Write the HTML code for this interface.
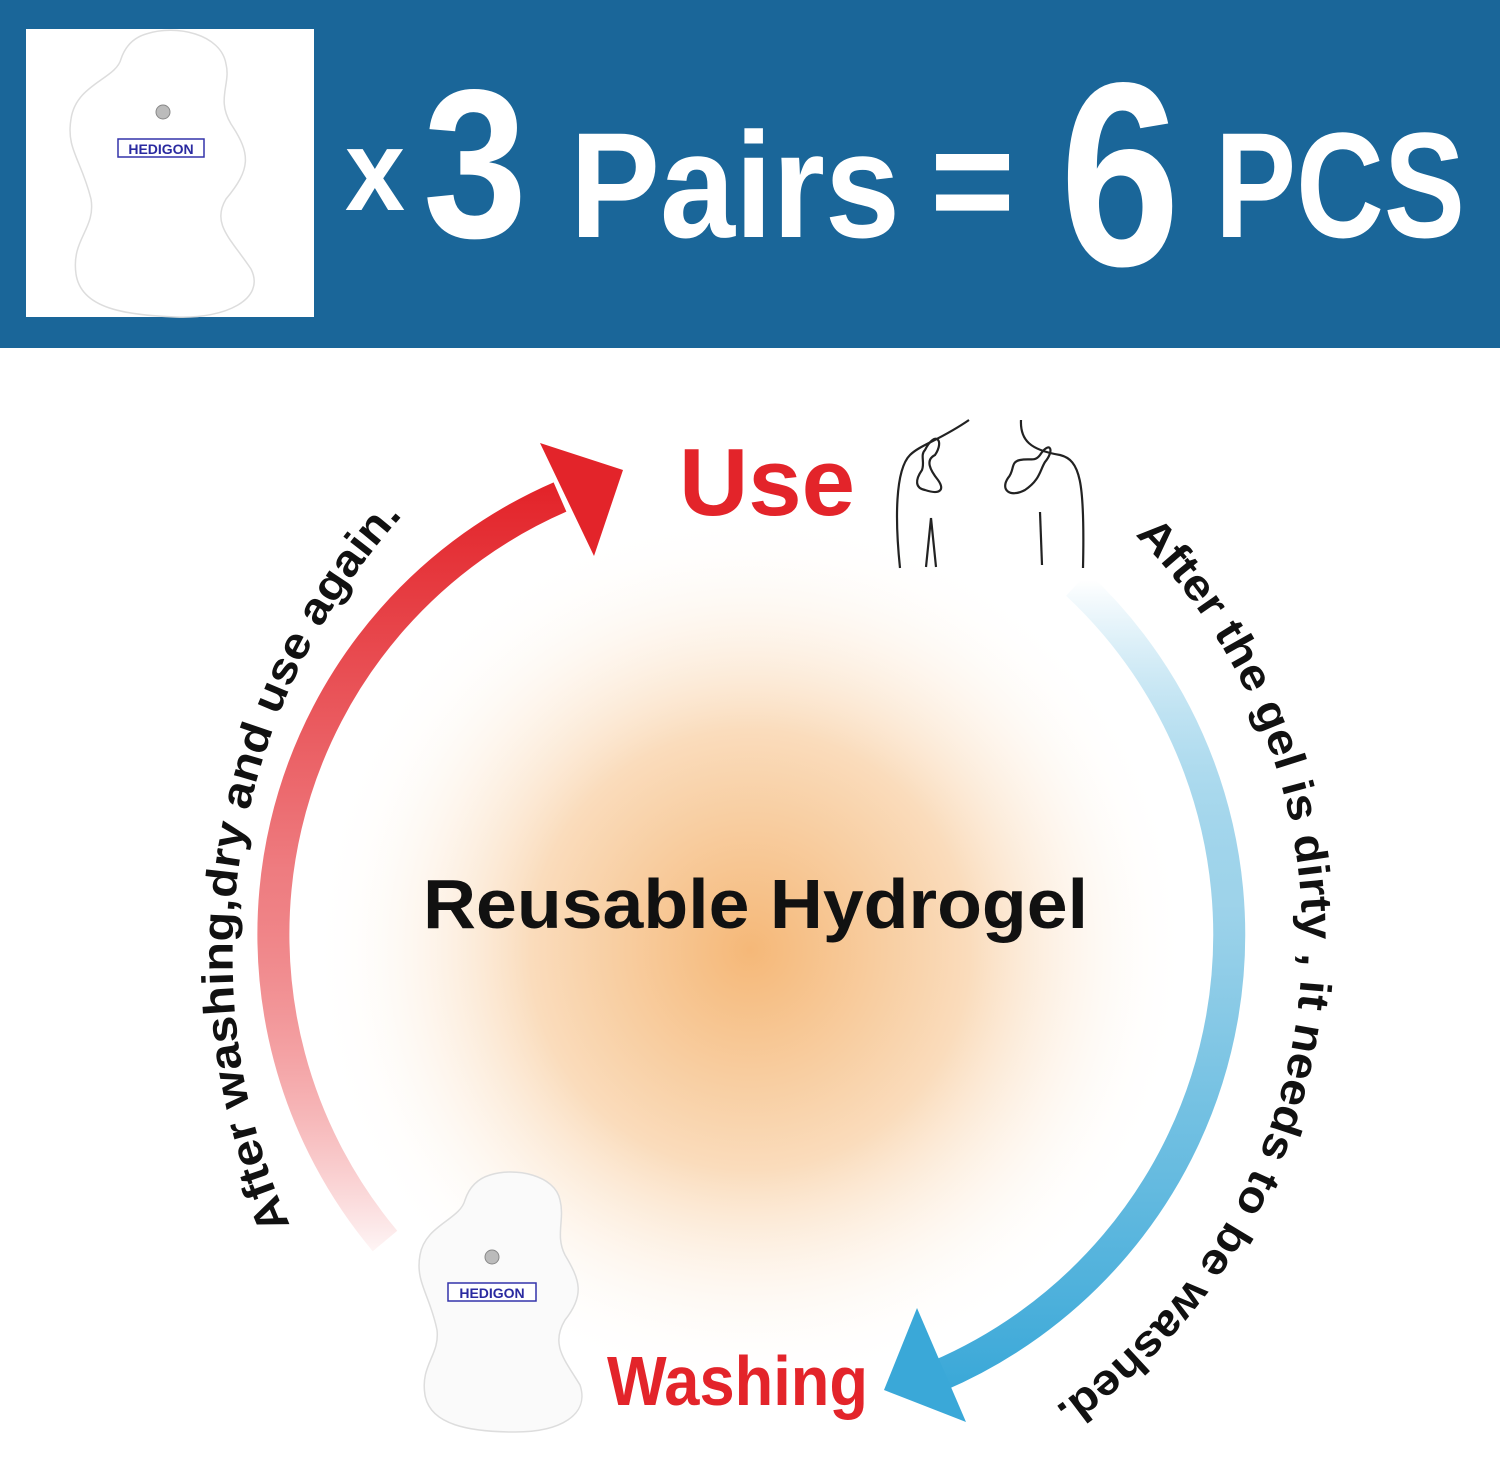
<!DOCTYPE html>
<html><head><meta charset="utf-8"><style>
html,body{margin:0;padding:0;background:#fff;}
body{width:1500px;height:1465px;position:relative;overflow:hidden;font-family:"Liberation Sans",sans-serif;}
</style></head><body>
<svg style="position:absolute;left:0;top:0" width="1500" height="1465">
<defs>
<radialGradient id="glow" cx="750" cy="950" r="440" gradientUnits="userSpaceOnUse">
<stop offset="0" stop-color="#f5b878"/><stop offset="0.5" stop-color="#fadcbc"/><stop offset="1" stop-color="#fff" stop-opacity="0"/>
</radialGradient>
<linearGradient id="red" x1="0" y1="1250" x2="0" y2="490" gradientUnits="userSpaceOnUse">
<stop offset="0" stop-color="#e6262a" stop-opacity="0.05"/><stop offset="0.5" stop-color="#ee7c80"/><stop offset="1" stop-color="#e3242a"/>
</linearGradient>
<linearGradient id="blue" x1="0" y1="580" x2="0" y2="1390" gradientUnits="userSpaceOnUse">
<stop offset="0" stop-color="#3aa8d8" stop-opacity="0"/><stop offset="0.4" stop-color="#9ed3ea"/><stop offset="1" stop-color="#3aa8d8"/>
</linearGradient>
<path id="lt" d="M 290 1225 A 657 657 0 0 1 420 497"/>
<path id="rt" d="M 1135 535 A 569 569 0 0 1 1048 1412"/>
</defs>
<rect x="0" y="0" width="1500" height="348" fill="#1a6699"/>
<rect x="26" y="29" width="288" height="288" fill="#fff"/>
<g transform="translate(26,29)">
<path d="M120 5 C150 -5 195 5 200 35 C205 55 190 70 205 95 C225 125 225 140 200 170 C185 195 205 210 225 240 C240 270 200 290 150 288 C100 286 55 280 50 245 C45 210 70 200 65 170 C55 130 40 120 45 90 C50 55 90 50 95 30 C100 15 110 8 120 5Z" fill="#fff" stroke="#ddd" stroke-width="1.5"/>
<circle cx="137" cy="83" r="7" fill="#bbb" stroke="#888"/>
<rect x="92" y="110" width="86" height="18" fill="#fff" stroke="#33a" stroke-width="1.5"/>
<text x="135" y="125" text-anchor="middle" font-family="Liberation Sans" font-weight="bold" font-size="14" fill="#2a2aa0">HEDIGON</text>
</g>
<g font-family="Liberation Sans" font-weight="bold" fill="#fff">
<text x="345" y="210" font-size="115" textLength="60" lengthAdjust="spacingAndGlyphs">x</text>
<text x="423" y="237" font-size="212" textLength="104" lengthAdjust="spacingAndGlyphs">3</text>
<text x="570" y="237" font-size="150" textLength="330" lengthAdjust="spacingAndGlyphs">Pairs</text>
<text x="930" y="232" font-size="150" textLength="85" lengthAdjust="spacingAndGlyphs">=</text>
<text x="1060" y="265" font-size="262" textLength="120" lengthAdjust="spacingAndGlyphs">6</text>
<text x="1215" y="237" font-size="150" textLength="250" lengthAdjust="spacingAndGlyphs">PCS</text>
</g>
<circle cx="750" cy="950" r="440" fill="url(#glow)"/>
<path d="M 385 1241 A 477 477 0 0 1 560 497" fill="none" stroke="url(#red)" stroke-width="32"/>
<polygon points="540,443 623,470 594,556" fill="#e3242a"/>
<path d="M 1077 584 A 480 480 0 0 1 938 1376" fill="none" stroke="url(#blue)" stroke-width="32"/>
<polygon points="917,1308 884,1390 966,1422" fill="#3aa8d8"/>
<text font-family="Liberation Sans" font-weight="bold" font-size="44" fill="#111" textLength="760" lengthAdjust="spacingAndGlyphs"><textPath href="#lt">After washing,dry and use again.</textPath></text>
<text font-family="Liberation Sans" font-weight="bold" font-size="44" fill="#111" textLength="1000" lengthAdjust="spacingAndGlyphs"><textPath href="#rt">After the gel is dirty , it needs to be washed.</textPath></text>
<text x="767" y="515" text-anchor="middle" font-family="Liberation Sans" font-weight="bold" font-size="96" fill="#e3242a">Use</text>
<text x="607" y="1405" font-family="Liberation Sans" font-weight="bold" font-size="70" fill="#e3242a" textLength="261" lengthAdjust="spacingAndGlyphs">Washing</text>
<text x="423" y="928" font-family="Liberation Sans" font-weight="bold" font-size="70" fill="#111" textLength="665" lengthAdjust="spacingAndGlyphs">Reusable Hydrogel</text>
<g fill="none" stroke="#222" stroke-width="2.2">
<path d="M969 420 C940 440 920 445 910 455 C895 470 895 520 900 568"/>
<path d="M931 518 L936 567 M931 518 L926 567"/>
<path d="M925 450 C935 430 945 440 935 455 C925 460 930 470 938 480 C945 490 940 495 925 490 C915 488 915 480 922 470 C925 462 920 455 925 450Z"/>
<path d="M1021 420 C1020 440 1030 450 1060 455 C1080 460 1085 480 1083 568"/>
<path d="M1040 512 L1042 565"/>
<path d="M1040 455 C1050 440 1055 450 1045 462 C1040 470 1040 480 1025 490 C1010 498 1000 490 1008 478 C1015 470 1010 462 1020 460 C1030 458 1035 462 1040 455Z"/>
</g>
<g transform="translate(395,1170)">
<path d="M95 5 C120 -3 160 5 165 30 C170 50 160 65 170 85 C185 110 190 125 170 150 C155 175 170 190 185 215 C195 245 165 262 120 262 C75 262 35 255 30 225 C25 195 45 185 42 160 C35 125 20 112 25 85 C30 55 65 50 70 30 C75 15 85 8 95 5Z" fill="#fafafa" stroke="#ddd" stroke-width="1.5"/>
<circle cx="97" cy="87" r="7" fill="#bbb" stroke="#888"/>
<rect x="53" y="113" width="88" height="18" fill="#fff" stroke="#33a" stroke-width="1.5"/>
<text x="97" y="128" text-anchor="middle" font-family="Liberation Sans" font-weight="bold" font-size="14" fill="#2a2aa0">HEDIGON</text>
</g>
</svg>
</body></html>
